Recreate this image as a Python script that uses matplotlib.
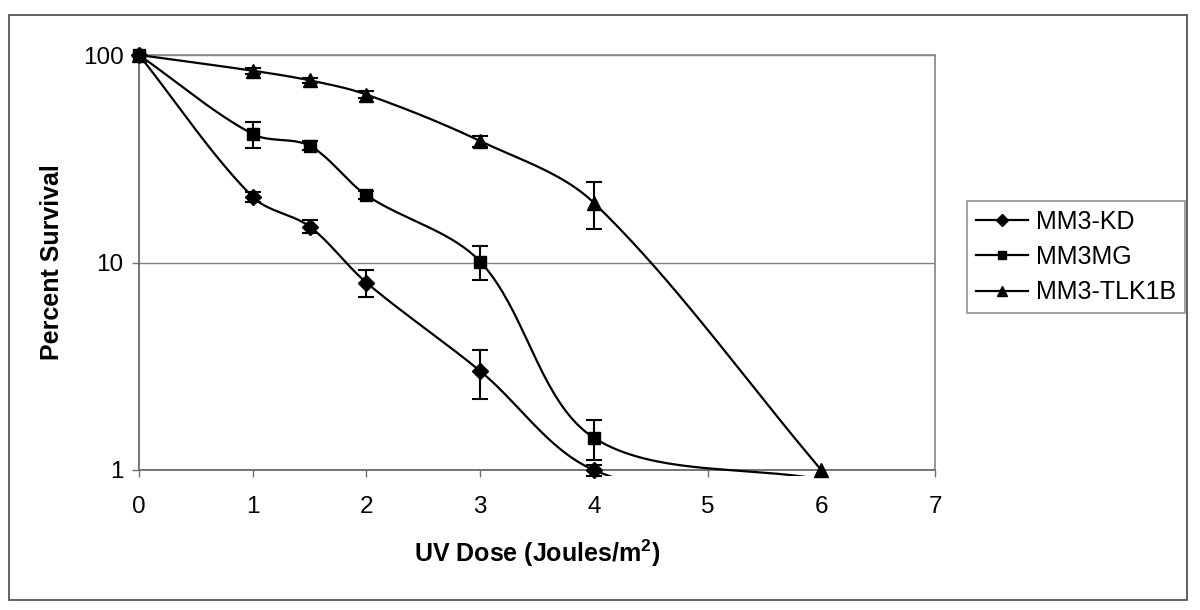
import numpy as np
import matplotlib
matplotlib.use("Agg")
import matplotlib.pyplot as plt
from matplotlib.patches import Rectangle
from matplotlib.transforms import Bbox, TransformedBbox

plt.rcParams['font.family'] = ['Liberation Sans', 'DejaVu Sans']
plt.rcParams['mathtext.fontset'] = 'custom'
plt.rcParams['mathtext.rm'] = 'Liberation Sans:bold'

# UV dose (J/m2)
dose = [0, 1, 1.5, 2, 3, 4, 6]

# percent survival (last points of KD/MG fall below the axis)
kd = [100, 20.7, 14.9, 8.0, 3.0, 1.0, 0.6]
kd_err = [0, 1.2, 1.1, 1.2, 0.8, 0.06, 0]
mg = [100, 41.6, 36.5, 21.1, 10.1, 1.43, 0.9]
mg_err = [0, 5.8, 1.8, 0.9, 1.85, 0.31, 0]
tlk = [100, 84, 75.5, 64.5, 38.5, 19.4, 1.0]
tlk_err = [0, 2.8, 2.2, 2.2, 2.4, 4.9, 0]

labels = ['MM3-KD', 'MM3MG', 'MM3-TLK1B']
markers = ['D', 's', '^']
msizes = [8, 8.5, 9.5]
mzorder = [4, 6, 5]

# pixel scale of the plot area, used so smoothing works in screen space
PX_X = 796 / 7
PX_Y = 415 / 2


def excel_smooth(x, y, n=40):
    # bezier smoothing roughly like excel's "smoothed line"
    pts = np.column_stack([np.asarray(x, float) * PX_X, np.log10(y) * PX_Y])
    m = len(pts)
    t = np.linspace(0, 1, n)[:, None]
    out = []
    for i in range(m - 1):
        p0 = pts[max(i - 1, 0)]
        p1 = pts[i]
        p2 = pts[i + 1]
        p3 = pts[min(i + 2, m - 1)]
        d01 = np.hypot(*(p1 - p0))
        d12 = np.hypot(*(p2 - p1))
        d23 = np.hypot(*(p3 - p2))
        f1 = d12 / (d01 + d12) / 3
        f2 = d12 / (d12 + d23) / 3
        c1 = p1 + (p2 - p0) * f1
        c2 = p2 - (p3 - p1) * f2
        seg = (1 - t) ** 3 * p1 + 3 * (1 - t) ** 2 * t * c1 + 3 * (1 - t) * t ** 2 * c2 + t ** 3 * p2
        out.append(seg if i == 0 else seg[1:])
    pts = np.vstack(out)
    return pts[:, 0] / PX_X, 10 ** (pts[:, 1] / PX_Y)


fig = plt.figure(figsize=(12, 6.1), dpi=100)
ax = fig.add_axes([139 / 1200, 1 - 470 / 610, 796 / 1200, 415 / 610])

ax.set_yscale('log')
ax.set_xlim(0, 7)
ax.set_ylim(1, 100)

# clip a few pixels below the axis like excel does
clip = TransformedBbox(Bbox([[0, -0.015], [1, 1]]), ax.transAxes)

handles = []
for vals, errs, lab, mk, ms, mz in zip([kd, mg, tlk], [kd_err, mg_err, tlk_err],
                                       labels, markers, msizes, mzorder):
    sx, sy = excel_smooth(dose, vals)
    ln, = ax.plot(sx, sy, color='black', lw=1.6, zorder=3)
    ln.set_clip_box(clip)

    d = np.array(dose, float)
    v = np.array(vals, float)
    e = np.array(errs, float)
    keep = v >= 1
    ax.plot(d[keep], v[keep], linestyle='none', marker=mk, ms=ms, color='black',
            clip_on=False, zorder=mz)

    has = e > 0
    eb = ax.errorbar(d[has], v[has], yerr=e[has], fmt='none', ecolor='black',
                     elinewidth=1.5, capsize=6, capthick=1.5, zorder=3)
    for a in list(eb.lines[1]) + list(eb.lines[2]):
        a.set_clip_on(False)

    h, = ax.plot([], [], color='black', lw=1.6, marker=mk, ms=ms * 0.75, label=lab)
    handles.append(h)

ax.set_yticks([1, 10, 100])
ax.set_yticklabels(['1', '10', '100'])
ax.yaxis.set_minor_locator(matplotlib.ticker.NullLocator())
ax.set_xticks(range(0, 8))
ax.tick_params(axis='y', direction='out', length=5, width=1, color='#707070',
               labelsize=17.5, pad=6)
ax.tick_params(axis='x', direction='out', length=5, width=1, color='#707070',
               labelsize=17.5, pad=14)
ax.yaxis.grid(True, color='#808080', lw=1)
ax.set_axisbelow(True)

for side in ['left', 'bottom']:
    ax.spines[side].set_color('#6a6a6a')
    ax.spines[side].set_linewidth(1.3)
for side in ['top', 'right']:
    ax.spines[side].set_color('#8c8c8c')
    ax.spines[side].set_linewidth(1.3)

ax.set_xlabel('UV Dose (Joules/m$^\\mathrm{2}$)', fontsize=18, fontweight='bold')
ax.xaxis.label.set_va('center')
ax.xaxis.set_label_coords(0.5, -0.2)
ax.set_ylabel('Percent Survival', fontsize=18, fontweight='bold')
ax.yaxis.label.set_va('center')
ax.yaxis.set_label_coords(-0.109, 0.5)

leg = fig.legend(handles=handles, loc='upper left', bbox_to_anchor=(967 / 1200, 1 - 201 / 610),
                 fontsize=18, frameon=True, fancybox=False, handlelength=2.1,
                 handletextpad=0.3, labelspacing=0.45, borderpad=0.35, borderaxespad=0)
leg.get_frame().set_edgecolor('#808080')
leg.get_frame().set_linewidth(1.3)

# outer chart border
fig.patches.append(Rectangle((9 / 1200, 1 - 600 / 610), 1178 / 1200, 585 / 610,
                             transform=fig.transFigure, fill=False,
                             edgecolor='#555555', lw=1.3))

fig.savefig('out.png', dpi=100)
